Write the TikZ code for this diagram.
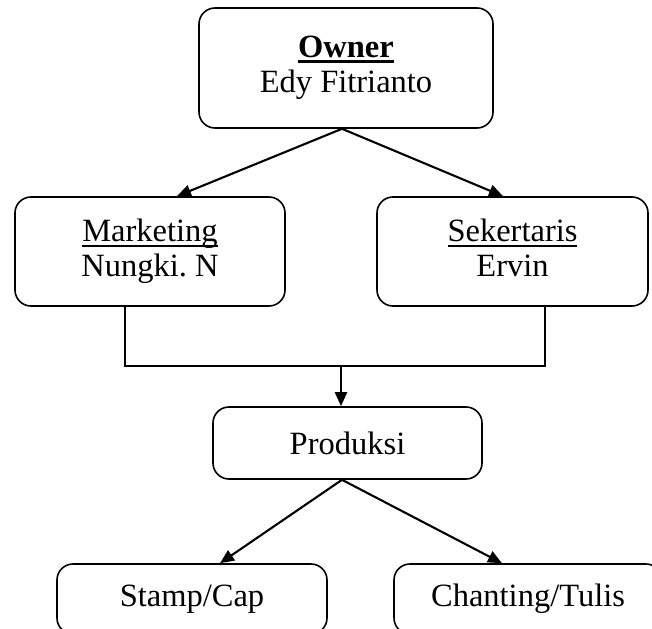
\documentclass[tikz,border=0pt]{standalone}
\usepackage{fontspec}
\setmainfont{Liberation Serif}
\usetikzlibrary{arrows.meta,calc}
\frenchspacing
\newcommand{\ulword}[2][1.8pt]{\setbox0=\hbox{#2}\rlap{\rule[-5.5pt]{\wd0}{#1}}\box0}
\tikzset{
  unit/.style ={draw,line width=1.6pt,rounded corners=16pt,align=center,inner sep=0pt,
                font=\fontsize{32.5}{35}\selectfont},
  ar/.style   ={line width=2.1pt,-{Triangle[length=14pt,width=12pt]}},
  ln/.style   ={line width=1.5pt},
}
\begin{document}
\begin{tikzpicture}[x=1pt,y=-1pt]
  \clip (0,0) rectangle (652,628);
  \node[unit,minimum width=294pt,minimum height=120pt] (owner) at (346,68)
    {\strut\ulword[2.8pt]{\textbf{Owner}}\\Edy Fitrianto\strut};
  \node[unit,minimum width=270pt,minimum height=109pt] (mkt) at (150,251.5)
    {\strut\ulword{Marketing}\\Nungki.\ N\strut};
  \node[unit,minimum width=271pt,minimum height=109pt] (sek) at (512.5,251.5)
    {\strut\ulword{Sekertaris}\\Ervin\strut};
  \node[unit,minimum width=269pt,minimum height=72pt] (prod) at (347.5,443) {Produksi};
  \node[unit,minimum width=270pt,minimum height=70pt] (stamp) at (192,599) {Stamp/Cap};
  \node[unit,minimum width=268pt,minimum height=70pt] (chant) at (528,599) {Chanting/Tulis};
  \coordinate (bus) at (341,366);
  \draw[ar] ([xshift=-4pt]owner.south) -- ([xshift=27pt]mkt.north);
  \draw[ar] ([xshift=-4pt]owner.south) -- ([xshift=-9.5pt]sek.north);
  \draw[ln] ([xshift=-25pt]mkt.south) |- (bus) -| ([xshift=32.5pt]sek.south);
  \draw[ar] (bus) -- (bus |- prod.north);
  \draw[ar] ([xshift=-5.5pt]prod.south) -- ([xshift=28pt]stamp.north);
  \draw[ar] ([xshift=-5.5pt]prod.south) -- ([xshift=-26pt]chant.north);
\end{tikzpicture}
\end{document}
